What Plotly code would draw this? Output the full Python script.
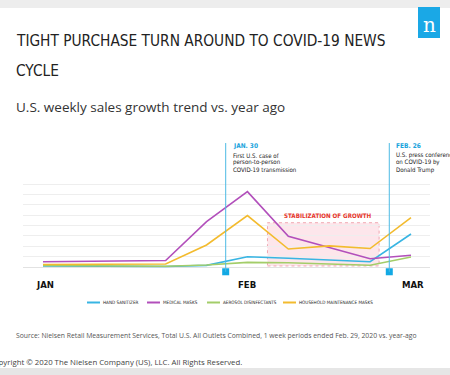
import plotly.graph_objects as go

# ---------------- data ----------------
week_index = list(range(10))
series_names = ["HAND SANITIZER", "MEDICAL MASKS", "AEROSOL DISINFECTANTS", "HOUSEHOLD MAINTENANCE MASKS"]
series_colors = ["#38b5e3", "#b24fbb", "#a3cd69", "#f3bb2e"]
hand_sanitizer = [0.10, 0.07, 0.05, 0.05, 0.16, 0.99, 0.84, 0.67, 0.51, 3.18]
medical_masks = [0.51, 0.55, 0.58, 0.63, 4.37, 7.26, 2.96, 1.88, 0.80, 1.13]
aerosol_disinfectants = [0.14, 0.10, 0.07, 0.07, 0.19, 0.45, 0.41, 0.31, 0.17, 0.96]
household_masks = [0.24, 0.26, 0.26, 0.29, 2.12, 4.96, 1.73, 2.04, 1.78, 4.75]
series_values = [hand_sanitizer, medical_masks, aerosol_disinfectants, household_masks]

month_ticks = [0.05, 4.99, 9.05]
month_labels = ["JAN", "FEB", "MAR"]

event_x = [4.468, 8.469]
event_titles = ["JAN. 30", "FEB. 26"]
event_texts = [["First U.S. case of", "person-to-person", "COVID-19 transmission"],
               ["U.S. press conference", "on COVID-19 by", "Donald Trump"]]

stab_x = [5.49, 8.22]
stab_y = [0.10, 4.27]
stab_label = "STABILIZATION OF GROWTH"

grid_vals = list(range(0, 9))

# ---------------- layout geometry ----------------
W, H = 450, 375
L, R, T, B = 23, 20, 135, 95
PW, PH = W - L - R, H - T - B


def px(x):
    return (x - L) / PW


def py(y):
    return (H - B - y) / PH


NARROW = "DejaVu Sans Condensed, sans-serif"
SANS = "Open Sans, Noto Sans, sans-serif"

fig = go.Figure()

for name, color, vals in zip(series_names, series_colors, series_values):
    fig.add_trace(go.Scatter(x=week_index, y=vals, mode="lines", name=name,
                             line=dict(color=color, width=1.6), showlegend=False,
                             hoverinfo="skip"))

# event markers
fig.add_trace(go.Scatter(x=event_x, y=[-0.46] * len(event_x), mode="markers",
                         marker=dict(symbol="square", size=7, color="#12a9e4"),
                         showlegend=False, cliponaxis=False, hoverinfo="skip"))

shapes = []
annotations = []

# top / bottom gray bands
shapes.append(dict(type="rect", xref="paper", yref="paper", x0=px(0), x1=px(W), y0=py(8), y1=py(0),
                   fillcolor="#ededed", line=dict(width=0), layer="below"))
shapes.append(dict(type="rect", xref="paper", yref="paper", x0=px(0), x1=px(W), y0=py(H), y1=py(368),
                   fillcolor="#e6e6e6", line=dict(width=0), layer="below"))

# logo
shapes.append(dict(type="rect", xref="paper", yref="paper", x0=px(418), x1=px(440), y0=py(38), y1=py(7),
                   fillcolor="#1aa8e6", line=dict(width=0)))
annotations.append(dict(xref="paper", yref="paper", x=px(429), y=py(25), text="n", showarrow=False,
                        font=dict(family="DejaVu Serif, Liberation Serif, serif", size=20, color="white"),
                        xanchor="center", yanchor="middle"))

# stabilization box
shapes.append(dict(type="rect", xref="x", yref="y", x0=stab_x[0], x1=stab_x[1], y0=stab_y[0], y1=stab_y[1],
                   fillcolor="rgba(252,222,228,0.75)", line=dict(color="rgba(236,150,160,0.8)", width=1, dash="dot"),
                   layer="below"))
annotations.append(dict(xref="x", yref="y", x=(stab_x[0] + stab_x[1]) / 2 + 0.12, y=5.0, text=stab_label,
                        showarrow=False, font=dict(family=NARROW, size=6.2, color="#e6352b", weight="bold"),
                        xanchor="center", yanchor="middle"))

# event lines and text
for ex, title, lines in zip(event_x, event_titles, event_texts):
    shapes.append(dict(type="line", xref="x", yref="y", x0=ex, x1=ex, y0=-0.46, y1=11.95,
                       line=dict(color="#4dbbe4", width=1)))
    annotations.append(dict(xref="x", yref="paper", x=ex, xshift=5, y=py(146), text=title, showarrow=False,
                            font=dict(family=NARROW, size=6.5, color="#1aa3dc", weight="bold"),
                            xanchor="left", yanchor="middle"))
    for i, ln in enumerate(lines):
        annotations.append(dict(xref="x", yref="paper", x=ex, xshift=5, y=py(155 + 7.4 * i), text=ln,
                                showarrow=False, font=dict(family=NARROW, size=6.1, color="#222222"),
                                xanchor="left", yanchor="middle"))

# month labels
for mx, lab in zip(month_ticks, month_labels):
    annotations.append(dict(xref="x", yref="paper", x=mx, y=py(284), text=lab, showarrow=False,
                            font=dict(family=NARROW, size=9.5, color="#111111", weight="bold"),
                            xanchor="center", yanchor="middle"))

# custom legend
leg_x = [87, 147, 207, 283]
for lx, name, color in zip(leg_x, series_names, series_colors):
    shapes.append(dict(type="line", xref="paper", yref="paper", x0=px(lx), x1=px(lx + 13), y0=py(302.5),
                       y1=py(302.5), line=dict(color=color, width=2)))
    annotations.append(dict(xref="paper", yref="paper", x=px(lx + 13.5), y=py(302.5), text=name, showarrow=False,
                            font=dict(family=NARROW, size=4.6, color="#222222"), xanchor="left", yanchor="middle"))

# titles
TITLE_FONT = dict(family=NARROW, size=15.3, color="#222222")
annotations.append(dict(xref="paper", yref="paper", x=px(14), y=py(41), text="TIGHT PURCHASE TURN AROUND TO COVID-19 NEWS",
                        showarrow=False, font=TITLE_FONT, xanchor="left", yanchor="middle"))
annotations.append(dict(xref="paper", yref="paper", x=px(14), y=py(71), text="CYCLE",
                        showarrow=False, font=TITLE_FONT, xanchor="left", yanchor="middle"))
annotations.append(dict(xref="paper", yref="paper", x=px(14), y=py(107), text="U.S. weekly sales growth trend vs. year ago",
                        showarrow=False, font=dict(family=SANS, size=13.5, color="#333333"),
                        xanchor="left", yanchor="middle"))

# source + copyright
annotations.append(dict(xref="paper", yref="paper", x=px(14), y=py(335),
                        text="Source: Nielsen Retail Measurement Services, Total U.S. All Outlets Combined, 1 week periods ended Feb. 29, 2020 vs. year-ago",
                        showarrow=False, font=dict(family=SANS, size=6.8, color="#555555"),
                        xanchor="left", yanchor="middle"))
annotations.append(dict(xref="paper", yref="paper", x=px(244), y=py(361.5),
                        text="Copyright © 2020 The Nielsen Company (US), LLC. All Rights Reserved.",
                        showarrow=False, font=dict(family=SANS, size=7.8, color="#444444"),
                        xanchor="right", yanchor="middle"))

xr0 = (23 - 43) / (368 / 9)
xr1 = (430 - 43) / (368 / 9)
fig.update_layout(
    width=W, height=H,
    margin=dict(l=L, r=R, t=T, b=B, pad=0),
    paper_bgcolor="white", plot_bgcolor="white",
    shapes=shapes, annotations=annotations,
    xaxis=dict(range=[xr0, xr1], showgrid=False, zeroline=False, showticklabels=False, showline=False,
               ticks="", fixedrange=True),
    yaxis=dict(range=[-13 / 10.375, 132 / 10.375], tickvals=grid_vals, showticklabels=False, ticks="",
               showgrid=True, gridcolor="#eeeeee", gridwidth=1, zeroline=True, zerolinecolor="#e2e2e2",
               zerolinewidth=1, showline=False, fixedrange=True),
    showlegend=False,
)

fig.write_html("out.html", config={"displayModeBar": False},
               post_script="document.body.style.margin='0';document.body.style.overflow='hidden';")
